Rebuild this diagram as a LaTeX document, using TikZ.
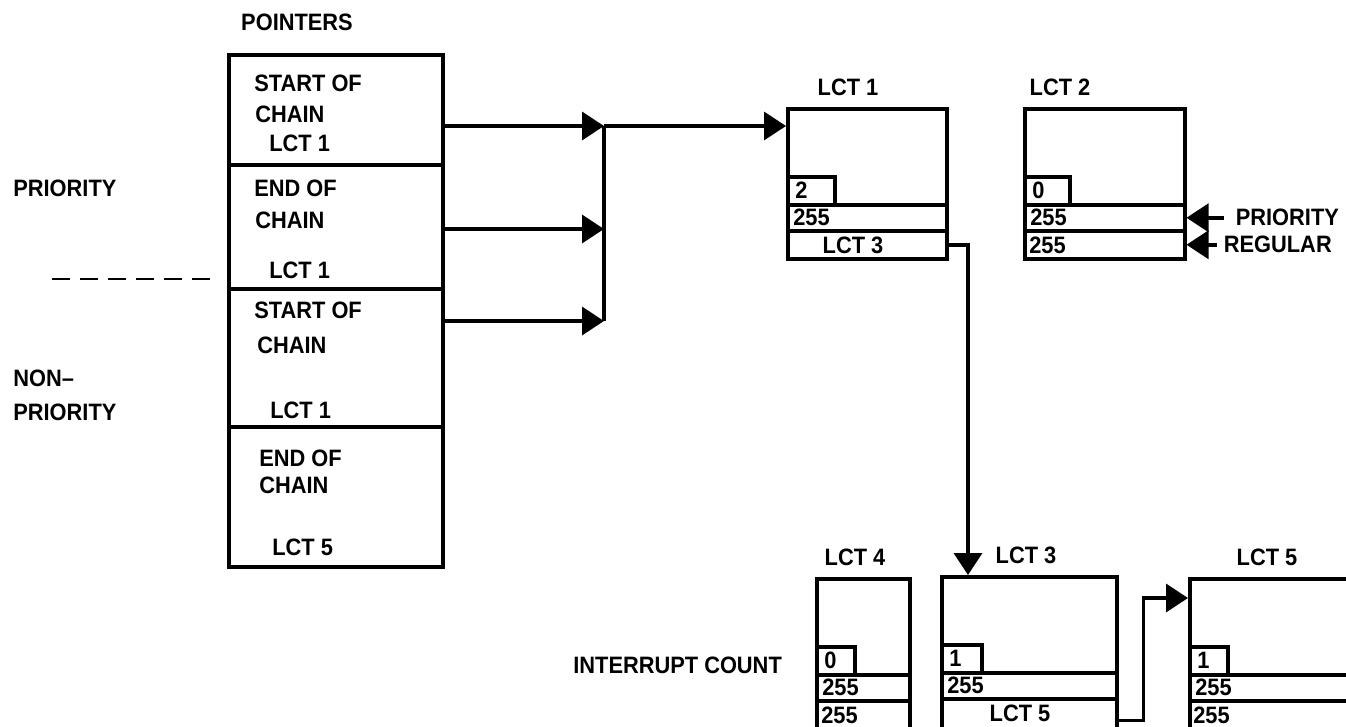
\documentclass[tikz,border=0pt]{standalone}
\usepackage{fontspec}
\setmainfont{Liberation Sans}[FakeStretch=0.92]
\usetikzlibrary{arrows.meta,positioning}
\tikzset{
  lbl/.style={font=\bfseries\fontsize{13.5}{15}\selectfont, inner sep=0pt},
  box/.style={draw, line width=2pt, anchor=north west, inner sep=0pt},
  wire/.style={line width=2pt},
  arr/.style={wire, -{Triangle[length=0.44cm, width=0.56cm]}}
}
\begin{document}
\begin{tikzpicture}[x=0.02cm, y=-0.02cm]
    \useasboundingbox (0,0) rectangle (1346,727);
    \clip (0,0) rectangle (1346,727);

    % Pointer table
    \node[lbl] (ptrs) at (297,22) {POINTERS};
    \foreach \n/\y/\h in {1/53/110, 2/163/124, 3/287/138, 4/425/140}
        \node[box, minimum width=214*0.02cm, minimum height=\h*0.02cm] (sec\n) at (227,\y) {};
    \foreach \x/\y/\t [count=\i] in {254/83/START OF, 255/114/CHAIN, 269/143/LCT 1,
        254/188/END OF, 255/220/CHAIN, 269/270/LCT 1, 254/310/START OF, 257/345/CHAIN,
        270/410/LCT 1, 259/458/END OF, 259/485/CHAIN, 272/547/LCT 5}
        \node[lbl, anchor=west] (ptxt\i) at (\x,\y) {\t};

    % Left labels
    \node[lbl, anchor=west] (prl) at (13,188) {PRIORITY};
    \node[lbl, anchor=west] (non) at (13,378) {NON–};
    \node[lbl, anchor=west] (nonp) at (13,412) {PRIORITY};
    \draw[line width=1.6pt, dash pattern=on 0.36cm off 0.2cm] (52,279) -- (210,279);

    % LCT blocks
    \foreach \n/\x/\y/\w/\h/\cw/\dg/\rb/\bx/\ba/\lx in {
        1/786/107/159/150/47/2/LCT 3/67/center/62,
        2/1023/107/160/150/45/0/255/6/west/37,
        4/815/577/93/165/38/0/255/6/west/40,
        3/940/575/175/165/40/1/LCT 5/80/center/86,
        5/1188/577/220/165/38/1/255/5/west/79}
    {
        \node[lbl] (lct\n-t) at (\x+\lx,\y-20) {LCT \n};
        \node[box, minimum width=\w*0.02cm, minimum height=\h*0.02cm] (lct\n) at (\x,\y) {};
        \node[box, minimum width=\cw*0.02cm, minimum height=28*0.02cm] (lct\n-c) at (\x,\y+68) {};
        \node[box, minimum width=\w*0.02cm, minimum height=26*0.02cm] (lct\n-a) at (\x,\y+96) {};
        \node[box, minimum width=\w*0.02cm, minimum height=(\h-122)*0.02cm] (lct\n-b) at (\x,\y+122) {};
        \node[lbl, anchor=west] (lct\n-cv) at (\x+9,\y+83) {\dg};
        \node[lbl, anchor=west] (lct\n-av) at (\x+7,\y+110) {255};
        \node[lbl, anchor=\ba] (lct\n-bv) at (\x+\bx,\y+138) {\rb};
    }
    \node[lbl, right=0.98cm of lct2-a.east] (pr) {PRIORITY};
    \node[lbl, right=0.74cm of lct2-b.east] (rg) {REGULAR};
    \node[lbl, anchor=west] (intc) at (573,665) {INTERRUPT COUNT};

    % Chain pointers
    \coordinate (p1) at (441,126);
    \coordinate (p2) at (441,229);
    \coordinate (p3) at (441,321);
    \coordinate (jn) at (604,126);
    \foreach \n in {1,2,3}
        \draw[arr] (p\n) -- (p\n -| jn);
    \draw[wire] (jn) -- (jn |- p3);
    \draw[arr] (jn) -- (jn -| lct1.west);
    \draw[arr] (lct1-b.east) -| ([xshift=0.56cm]lct3.north west);
    \draw[arr] (lct3-b.east) -- ++(0.5cm,0) |- ([yshift=-0.42cm]lct5.north west);
    \draw[arr] ([xshift=-0.24cm]pr.west) -- (lct2-a.east);
    \draw[arr] ([xshift=-0.14cm]rg.west) -- (lct2-b.east);
\end{tikzpicture}
\end{document}
